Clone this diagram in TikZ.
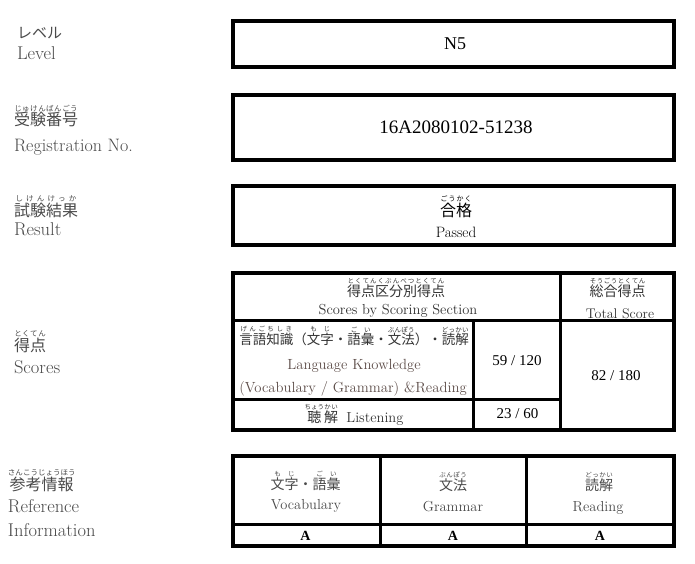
\documentclass[tikz,border=0pt]{standalone}
\usepackage{fontspec}
\newfontfamily\jp{Noto Sans CJK JP}
\newfontfamily\tnr{Liberation Serif}
\newcommand\fs[1]{\fontsize{#1}{#1}\selectfont}
\newcommand\rs{\hfil\hfil}
\newcommand\rb[3][7]{\leavevmode\vbox{\offinterlineskip
  \setbox0\hbox{#2}\setbox2\hbox{\jp\fs{#1}#3}%
  \dimen0=\wd0 \ifdim\wd2>\dimen0 \dimen0=\wd2 \fi
  \hbox to\dimen0{\jp\fs{#1}\hfil #3\hfil}\kern0.3pt
  \hbox to\dimen0{\hfil\box0\hfil}}}
\definecolor{lbl}{HTML}{4A4A4A}
\definecolor{hdr}{HTML}{333333}
\definecolor{lk}{HTML}{5E4E4A}
\tikzset{
  t/.style={inner sep=0pt, outer sep=0pt, anchor=base},
  lab/.style={inner sep=0pt, outer sep=0pt, anchor=base west, text=lbl},
  outerline/.style={line width=4pt, draw=black},
  innerline/.style={line width=3pt, draw=black}
}
\begin{document}
\begin{tikzpicture}[x=1pt,y=-1pt]
\useasboundingbox (0,0) rectangle (695,564);
\fill[white] (0,0) rectangle (695,564);

% frames
\draw[outerline] (233,21.3) rectangle (673.7,67.3);
\draw[outerline] (233,95.3) rectangle (673.7,159.8);
\draw[outerline] (233,186.3) rectangle (673.7,245.3);

% score table
\coordinate (st1) at (233,320.8);
\coordinate (st2) at (560.8,320.8);
\coordinate (st3) at (673.7,320.8);
\coordinate (st4) at (560.8,272.7);
\coordinate (st5) at (560.8,430.3);
\coordinate (st6) at (473.2,320.8);
\coordinate (st7) at (473.2,430.3);
\coordinate (st8) at (233,399.2);
\coordinate (st9) at (560.8,399.2);
\draw[innerline] (st1) -- (st3);
\draw[innerline] (st4) -- (st5);
\draw[innerline] (st6) -- (st7);
\draw[innerline] (st8) -- (st9);
\draw[outerline] (233,272.7) rectangle (673.7,430.3);

% reference table
\coordinate (rt1) at (380,456.2);
\coordinate (rt2) at (380,545.8);
\coordinate (rt3) at (526,456.2);
\coordinate (rt4) at (526,545.8);
\coordinate (rt5) at (233,524.2);
\coordinate (rt6) at (673.7,524.2);
\draw[innerline] (rt1) -- (rt2);
\draw[innerline] (rt3) -- (rt4);
\draw[innerline] (rt5) -- (rt6);
\draw[outerline] (233,456.2) rectangle (673.7,545.8);

% left labels
\node[lab] (lv1) at (17,39) {\jp\fs{15}レベル};
\node[lab] (lv2) at (17,60) {\fs{18.5}Level};
\node[lab] (rg1) at (14,126) {\jp\fs{16}\rb[7.5]{受験番号}{じ\rs ゅ\rs け\rs ん\rs ば\rs ん\rs ご\rs う}};
\node[lab] (rg2) at (14,152) {\fs{18}Registration No.};
\node[lab] (rs1) at (14,216) {\jp\fs{16}\rb[7.5]{試験結果}{し\rs け\rs ん\rs け\rs っ\rs か}};
\node[lab] (rs2) at (14,235) {\fs{18.5}Result};
\node[lab] (sc1) at (14,351) {\jp\fs{16}\rb[7.5]{得点}{と\rs く\rs て\rs ん}};
\node[lab] (sc2) at (14,373) {\fs{18.5}Scores};
\node[lab] (rf1) at (8,490) {\jp\fs{16}\rb[7.5]{参考情報}{さ\rs ん\rs こ\rs う\rs じ\rs ょ\rs う\rs ほ\rs う}};
\node[lab] (rf2) at (8,512) {\fs{18.5}Reference};
\node[lab] (rf3) at (8,536) {\fs{18.5}Information};

% top boxes
\node[t] (n5) at (455,50) {\tnr\fs{18}N5};
\node[t] (reg) at (456,134) {\tnr\fs{19}16A2080102-51238};
\node[t] (ps1) at (456,216) {\jp\fs{16}\rb[7]{合格}{ご\rs う\rs か\rs く}};
\node[t] (ps2) at (456,237) {\fs{15}Passed};

% score table texts
\node[t,text=hdr] (sh1) at (396,296) {\jp\fs{14}\rb[6.5]{得点区分別得点}{と\rs く\rs て\rs ん\rs く\rs ぶ\rs ん\rs べ\rs つ\rs と\rs く\rs て\rs ん}};
\node[t,text=hdr] (sh2) at (398,314) {\fs{14.5}Scores by Scoring Section};
\node[t,text=hdr] (th1) at (617.5,296) {\jp\fs{14}\rb[6.5]{総合得点}{そ\rs う\rs ご\rs う\rs と\rs く\rs て\rs ん}};
\node[t,text=hdr] (th2) at (620,318) {\fs{14}Total Score};
\node[t,text=hdr] (lk1) at (354,344) {\jp\fs{13.5}\rb[6.5]{言語知識}{げ\rs ん\rs ご\rs ち\rs し\rs き}（\rb[6.5]{文字}{も\rs じ}・\rb[6.5]{語彙}{ご\rs い}・\rb[6.5]{文法}{ぶ\rs ん\rs ぽ\rs う}）・\rb[6.5]{読解}{ど\rs っ\rs か\rs い}};
\node[t,text=lk] (lk2) at (354,369) {\fs{14.7}Language Knowledge};
\node[t,text=lk] (lk3) at (353,392) {\fs{14.7}(Vocabulary / Grammar) \&Reading};
\node[t,text=hdr] (ls) at (354,422) {\jp\fs{14}\rb[6.5]{聴}{ち\rs ょ\rs う}\rb[6.5]{解}{か\rs い}\hspace{0.6em}\rmfamily\fs{14.5}Listening};
\node[t] (s1) at (517,365) {\tnr\fs{15}59 / 120};
\node[t] (s2) at (517.5,418) {\tnr\fs{15}23 / 60};
\node[t] (s3) at (616,380) {\tnr\fs{15}82 / 180};

% reference table texts
\node[t,text=lbl] (v1) at (305.5,489) {\jp\fs{14}\rb[6.5]{文字}{も\rs じ}・\rb[6.5]{語彙}{ご\rs い}};
\node[t,text=lbl] (v2) at (306,509) {\fs{14.5}Vocabulary};
\node[t,text=lbl] (g1) at (453,490) {\jp\fs{14}\rb[6.5]{文法}{ぶ\rs ん\rs ぽ\rs う}};
\node[t,text=lbl] (g2) at (453,511) {\fs{14.5}Grammar};
\node[t,text=lbl] (r1) at (599,490) {\jp\fs{14}\rb[6.5]{読解}{ど\rs っ\rs か\rs い}};
\node[t,text=lbl] (r2) at (598,511) {\fs{14.5}Reading};
\node[t] (a1) at (305.5,540) {\tnr\bfseries\fs{14}A};
\node[t] (a2) at (453,540) {\tnr\bfseries\fs{14}A};
\node[t] (a3) at (600,540) {\tnr\bfseries\fs{14}A};
\end{tikzpicture}
\end{document}
